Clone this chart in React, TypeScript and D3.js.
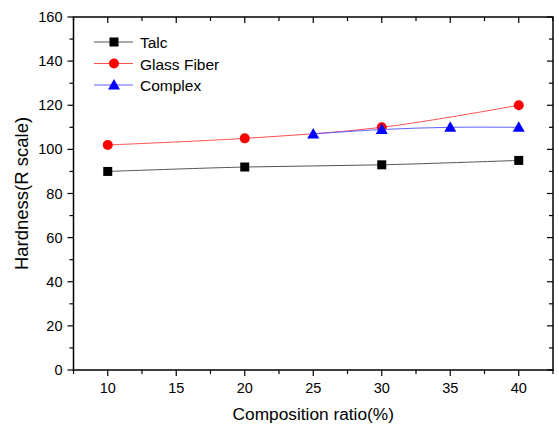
import React from "react";
import * as d3 from "d3";

const talcX = [10, 20, 30, 40];
const talcY = [90, 92, 93, 95];
const glassX = [10, 20, 30, 40];
const glassY = [102, 105, 110, 120];
const complexX = [25, 30, 35, 40];
const complexY = [107, 109, 110, 110];
const xTicks = [10, 15, 20, 25, 30, 35, 40];
const yTicks = [0, 20, 40, 60, 80, 100, 120, 140, 160];
const seriesNames = ["Talc", "Glass Fiber", "Complex"];

const W = 559, H = 425;
const L = 73.5, R = 553, T = 17, B = 370;
const font = "'Liberation Sans', Arial, sans-serif";

export default function App() {
  const x = d3.scaleLinear().domain([7.5, 42.5]).range([L, R]);
  const y = d3.scaleLinear().domain([0, 160]).range([B, T]);
  const line = d3.line<[number, number]>().x(d => x(d[0])).y(d => y(d[1])).curve(d3.curveCatmullRom);
  const series = [
    { name: seriesNames[0], xs: talcX, ys: talcY, color: "#000000", line: "#555", shape: "square" },
    { name: seriesNames[1], xs: glassX, ys: glassY, color: "#ff0000", line: "#ff5050", shape: "circle" },
    { name: seriesNames[2], xs: complexX, ys: complexY, color: "#0000ff", line: "#6060ff", shape: "triangle" },
  ];
  const marker = (shape: string, cx: number, cy: number, color: string, key?: any) => {
    if (shape === "square") return <rect key={key} x={cx - 4.5} y={cy - 4.5} width={9} height={9} fill={color} />;
    if (shape === "circle") return <circle key={key} cx={cx} cy={cy} r={5} fill={color} />;
    return <path key={key} d={`M${cx},${cy - 6}L${cx + 6},${cy + 4.5}L${cx - 6},${cy + 4.5}Z`} fill={color} />;
  };
  const xMinor = d3.range(7.5, 42.6, 2.5);
  const yMinor = d3.range(0, 161, 10);
  return (
    <svg width={W} height={H} style={{ position: "absolute", left: 0, top: 0, background: "#fff" }} fontFamily={font}>
      <rect x={0} y={0} width={W} height={H} fill="#fff" />
      {series.map((s, i) => (
        <g key={i}>
          <path d={line(s.xs.map((v, j) => [v, s.ys[j]]) as any) || ""} fill="none" stroke={s.line} strokeWidth={1} />
          {s.xs.map((v, j) => marker(s.shape, x(v), y(s.ys[j]), s.color, j))}
        </g>
      ))}
      <rect x={L} y={T} width={R - L} height={B - T} fill="none" stroke="#000" strokeWidth={1.5} />
      {xMinor.map((v, i) => {
        const major = Math.abs((v / 5) - Math.round(v / 5)) < 1e-6;
        const len = major ? 6 : 4;
        return (
          <g key={i}>
            <line x1={x(v)} x2={x(v)} y1={B} y2={B + len} stroke="#000" strokeWidth={1.2} />
            <line x1={x(v)} x2={x(v)} y1={T} y2={T + len} stroke="#000" strokeWidth={1.2} />
          </g>
        );
      })}
      {xTicks.map((v, i) => (
        <text key={i} x={x(v)} y={B + 23} textAnchor="middle" fontSize={14.5}>{v}</text>
      ))}
      {yMinor.map((v, i) => {
        const major = v % 20 === 0;
        const len = major ? 6 : 4;
        return (
          <g key={i}>
            <line x1={L - len} x2={L} y1={y(v)} y2={y(v)} stroke="#000" strokeWidth={1.2} />
            <line x1={R - len} x2={R} y1={y(v)} y2={y(v)} stroke="#000" strokeWidth={1.2} />
          </g>
        );
      })}
      {yTicks.map((v, i) => (
        <text key={i} x={L - 11} y={y(v) + 5} textAnchor="end" fontSize={14.5}>{v}</text>
      ))}
      <text x={(L + R) / 2} y={420} textAnchor="middle" fontSize={17.3}>Composition ratio(%)</text>
      <text transform={`translate(28,${(T + B) / 2}) rotate(-90)`} textAnchor="middle" fontSize={18.5}>Hardness(R scale)</text>
      {series.map((s, i) => {
        const ly = 42 + i * 21.5;
        return (
          <g key={i}>
            <line x1={94} x2={133} y1={ly} y2={ly} stroke={s.line} strokeWidth={1} />
            {marker(s.shape, 114, ly, s.color)}
            <text x={140} y={ly + 6} fontSize={15.5}>{s.name}</text>
          </g>
        );
      })}
    </svg>
  );
}
